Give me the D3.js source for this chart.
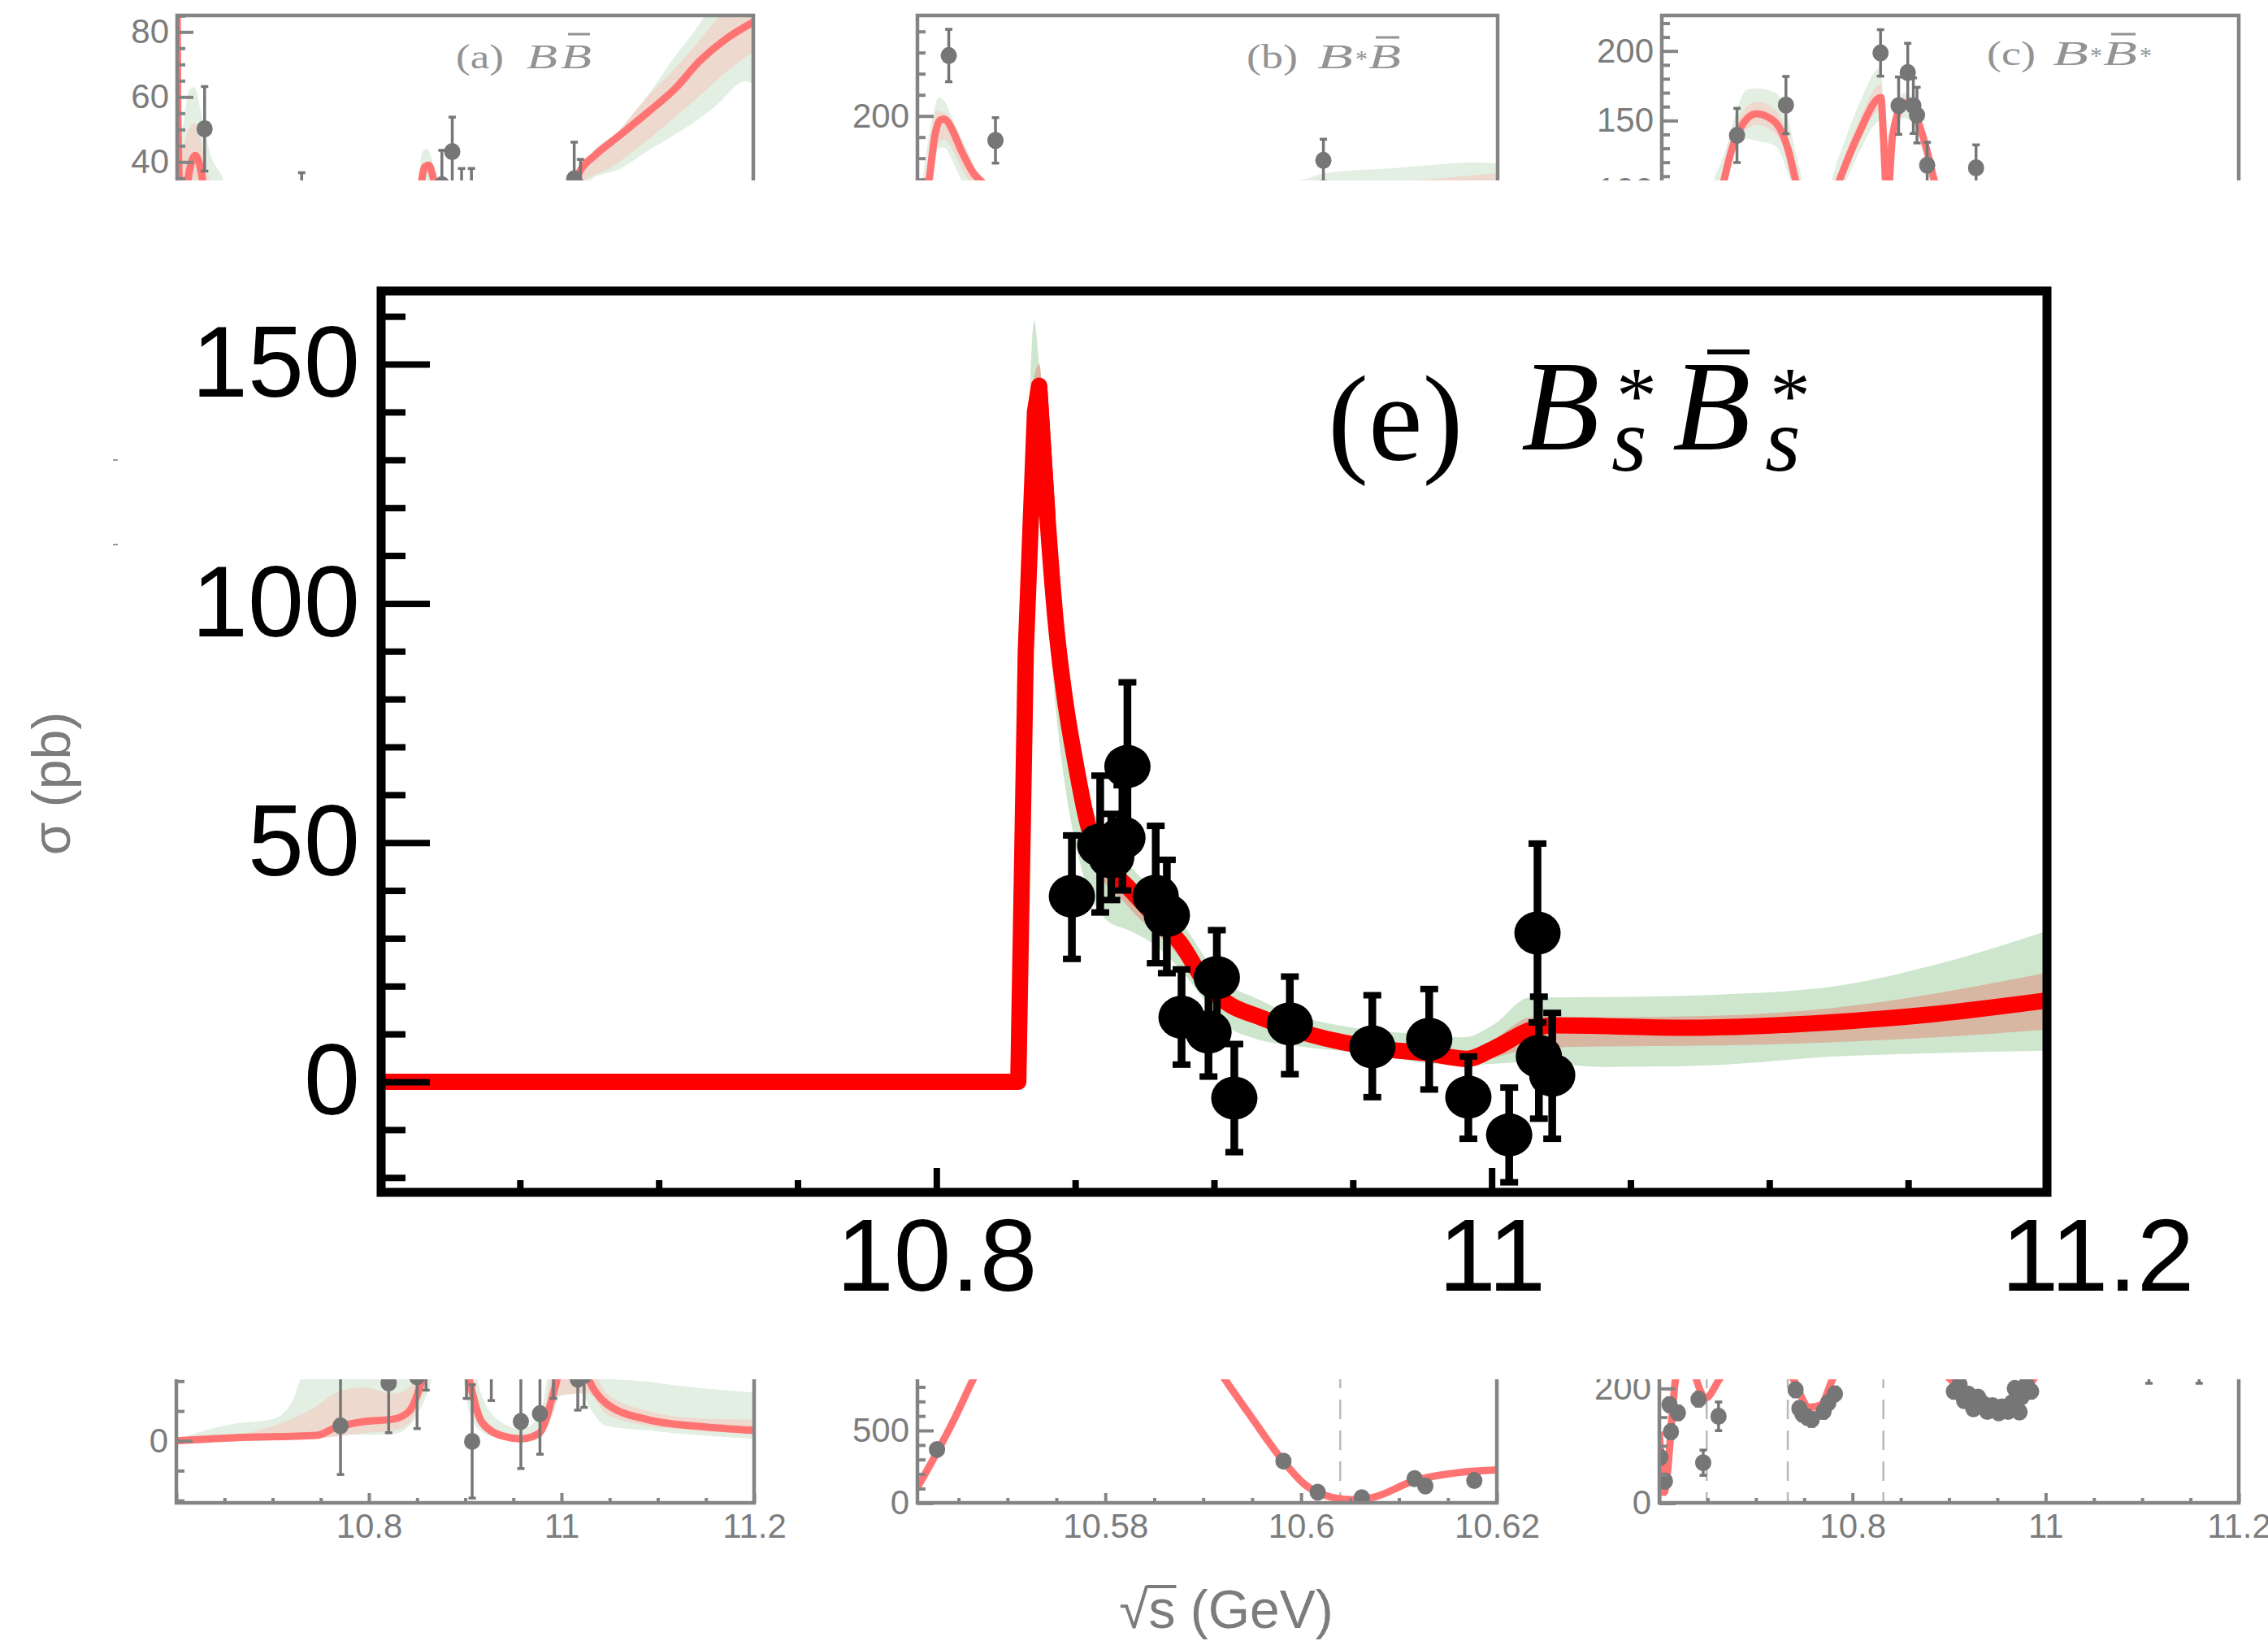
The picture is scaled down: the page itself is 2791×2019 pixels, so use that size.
<!DOCTYPE html>
<html>
<head>
<meta charset="utf-8">
<title>Bs* anti-Bs* cross section</title>
<script src="https://cdn.jsdelivr.net/npm/d3@7"></script>
<style>
  html, body { margin: 0; padding: 0; background: #ffffff; }
  svg { display: block; }
</style>
</head>
<body>
<svg id="fig" width="2791" height="2019"></svg>
<script>
// ================= Panel (e): B_s* B̄_s* =================
const energyE = [10.8488, 10.8590, 10.8630, 10.8670, 10.8688, 10.8790, 10.8830, 10.8883, 10.8980, 10.9010,
                 10.9073, 10.9273, 10.9570, 10.9775, 10.9916, 11.0063, 11.0165, 11.0170, 11.0218];
const sigmaE  = [38.8, 49.5, 47.0, 51.0, 65.9, 38.8, 34.8, 13.5, 10.4, 21.8,
                 -3.4, 12.1, 7.3, 8.9, -3.2, -11.1, 31.1, 5.3, 1.4];
const errUpE  = [12.7, 14.5, 9.0, 11.0, 17.6, 14.7, 11.6, 10.0, 9.3, 9.9,
                 11.3, 9.9, 10.8, 10.5, 8.5, 9.9, 18.7, 12.5, 13.0];
const errDnE  = [13.1, 14.1, 9.0, 11.0, 16.0, 14.0, 12.1, 9.9, 9.3, 10.0,
                 11.3, 10.5, 10.5, 10.5, 8.7, 9.9, 18.7, 13.0, 13.3];
// fitted line: threshold rise (straight segments) and the smooth tail
const fitRiseE = [[10.6, 0], [10.8295, 0], [10.8322, 90], [10.8355, 140], [10.8370, 145.5], [10.8400, 118]];
const fitTailE = [[10.8370, 145.5], [10.8400, 118], [10.8430, 96], [10.8463, 80], [10.8500, 67], [10.8547, 53.5],
  [10.8620, 45], [10.8693, 40.5], [10.8780, 35], [10.8877, 29.1], [10.8977, 20.1], [10.9060, 16.0], [10.9152, 13.8],
  [10.9345, 9.9], [10.9590, 7.0], [10.9775, 5.9], [10.9911, 4.8], [11.0009, 7.0], [11.0145, 11.0], [11.0222, 11.8],
  [11.0690, 11.3], [11.1237, 12.5], [11.1600, 14.2], [11.2000, 17.0]];
// uncertainty bands [sqrt(s), low, high]
const bandOuterE = [[10.8295, 0, 0], [10.8315, 30, 75], [10.8335, 95, 140], [10.8352, 125, 159], [10.8370, 128, 150],
  [10.8400, 100, 128], [10.8430, 78, 104], [10.8463, 62, 90], [10.8500, 50, 74], [10.8547, 40, 60], [10.8610, 34, 52],
  [10.8700, 31.5, 45], [10.8800, 28, 39], [10.8900, 22, 32], [10.8980, 16, 25], [10.9050, 11.6, 20.5],
  [10.9150, 9.0, 17.5], [10.9300, 7.5, 13.8], [10.9450, 6.5, 11.8], [10.9600, 5.5, 10.6], [10.9750, 4.0, 10.0],
  [10.9900, 3.5, 9.3], [11.0010, 3.8, 12.1], [11.0135, 4.2, 17.6], [11.0400, 3.1, 17.7], [11.0800, 3.5, 18.2],
  [11.1240, 5.3, 20.0], [11.1600, 6.0, 24.5], [11.2000, 6.5, 31.5]];
const bandInnerE = [[10.8295, 0, 0], [10.8320, 80, 100], [10.8355, 132, 148], [10.8370, 136, 150], [10.8400, 110, 124],
  [10.8463, 73, 85], [10.8547, 48, 57], [10.8693, 36.5, 43], [10.8877, 26, 31], [10.8977, 17.5, 22],
  [10.9152, 12, 15.5], [10.9345, 8.3, 11.2], [10.9590, 5.8, 8.5], [10.9775, 4.6, 7.3], [10.9911, 3.9, 6.5],
  [11.0009, 5.0, 9.0], [11.0145, 7.0, 13.5], [11.0400, 7.4, 13.5], [11.0800, 7.6, 13.8], [11.1240, 8.3, 15.5],
  [11.1600, 9.3, 18.5], [11.2000, 10.9, 22.8]];
const xMajorE = [10.8, 11.0, 11.2];
const xMinorE = [10.65, 10.7, 10.75, 10.85, 10.9, 10.95, 11.05, 11.1, 11.15];
const yMajorE = [0, 50, 100, 150];
const yMinorE = [-20, -10, 10, 20, 30, 40, 60, 70, 80, 90, 110, 120, 130, 140, 160];

// ================= Background panels =================
// (a) B B̄   points: [sqrt(s), sigma, error]
const ptsA = [[10.6286, 50.2, 13.0], [10.7297, 28, 8.7], [10.8757, 33, 10.6], [10.8865, 43.2, 10.6],
  [10.8962, 29, 9], [10.9065, 29, 9], [11.0135, 34.8, 11.3], [11.0200, 32, 8.8]];
const fitA = [[10.5995, 120], [10.6005, 60], [10.603, 30], [10.608, 25], [10.612, 36], [10.619, 42], [10.625, 37],
  [10.630, 28], [10.70, 20], [10.85, 28], [10.858, 38.5], [10.862, 39], [10.866, 36], [10.872, 28], [11.0, 28],
  [11.01, 31], [11.02, 37.5], [11.035, 42], [11.06, 48], [11.089, 55], [11.12, 63], [11.143, 70.7], [11.17, 77.5],
  [11.2, 83]];
const outerA = [[10.600, 20, 120], [10.605, 20, 50], [10.612, 25, 62], [10.618, 30, 63], [10.625, 28, 55],
  [10.635, 25, 42], [10.646, 20, 36], [10.66, 20, 25], [10.85, 28, 30], [10.855, 30, 43], [10.86, 32, 44],
  [10.866, 30, 40], [10.872, 25, 30], [11.0, 25, 30], [11.016, 30, 34.4], [11.03, 34.4, 42], [11.062, 38, 49.8],
  [11.089, 43.2, 60], [11.116, 48, 71.5], [11.143, 53.2, 82], [11.16, 57, 90], [11.192, 64.8, 100], [11.2, 64, 100]];
const innerA = [[10.600, 25, 100], [10.606, 25, 45], [10.612, 28, 50], [10.618, 33, 52], [10.625, 30, 46],
  [10.632, 25, 36], [10.66, 20, 25], [11.0, 25, 30], [11.019, 33, 36.5], [11.05, 38, 46], [11.089, 46.5, 59.8],
  [11.116, 53.2, 68], [11.143, 60, 77], [11.165, 66, 84.8], [11.2, 74, 92]];

// (b) B* B̄
const ptsB = [[10.6324, 257.2, 24.8], [10.6807, 176.9, 21.5], [11.0198, 158, 20]];
const fitB = [[10.600, 80], [10.606, 110], [10.612, 139], [10.618, 181.5], [10.6235, 196], [10.627, 197],
  [10.631, 195], [10.636, 187], [10.646, 166], [10.658, 145.7], [10.665, 139], [10.69, 120], [10.75, 100],
  [11.0, 110], [11.2, 125]];
const outerB = [[10.600, 60, 100], [10.610, 110, 170], [10.617, 150, 205], [10.622, 170, 217.5], [10.628, 170, 214],
  [10.635, 160, 200], [10.645, 140, 180], [10.655, 125, 160], [10.665, 110, 140], [10.70, 100, 120],
  [11.0, 120, 140], [11.0198, 125, 145.7], [11.094, 125, 150.8], [11.1765, 128, 155.9], [11.2, 128, 155]];
const innerB = [[10.600, 70, 90], [10.612, 130, 160], [10.620, 170, 205], [10.628, 178, 203], [10.636, 168, 192],
  [10.646, 150, 175], [10.66, 130, 150], [10.70, 105, 118], [11.0, 115, 132], [11.1, 118, 138], [11.2, 120, 146]];

// (c) B* B̄*
const ptsC = [[10.6782, 139.3, 19.5], [10.7291, 161.1, 20.6], [10.8275, 198.6, 16.7], [10.8463, 160.7, 20.6],
  [10.8558, 184.5, 21], [10.8616, 160.7, 20], [10.8654, 153.9, 20], [10.8760, 117.9, 16.5], [10.9268, 116, 16.5]];
const fitC = [[10.650, 50], [10.6647, 107], [10.6791, 141.2], [10.6984, 154.9], [10.7176, 149], [10.732, 127.6],
  [10.7392, 107], [10.76, 60], [10.7847, 107], [10.804, 139.3], [10.828, 166.5], [10.8304, 139.3], [10.8345, 90],
  [10.840, 139.3], [10.852, 162.6], [10.8616, 156.8], [10.876, 127.6], [10.8832, 107], [10.90, 70]];
const outerC = [[10.655, 70, 110], [10.6647, 95, 125], [10.6791, 131.5, 160], [10.6887, 137, 172.4],
  [10.6984, 135.4, 173], [10.7176, 132, 170.4], [10.732, 110, 149], [10.74, 90, 125], [10.76, 50, 80],
  [10.7847, 95, 125], [10.804, 125, 160], [10.828, 150, 188], [10.8304, 120, 160], [10.8345, 80, 100],
  [10.840, 125, 150], [10.852, 152, 170], [10.8616, 148, 165], [10.876, 118, 137], [10.8832, 95, 118], [10.90, 60, 80]];
const innerC = [[10.6647, 100, 115], [10.6791, 135, 150], [10.6984, 147, 163.6], [10.7176, 141, 158],
  [10.732, 120, 136], [10.7392, 100, 115], [10.76, 50, 70], [10.7847, 100, 114], [10.804, 132, 148],
  [10.828, 158, 176], [10.8304, 130, 148], [10.8345, 85, 95], [10.840, 132, 146], [10.852, 157, 167],
  [10.8616, 152, 161], [10.876, 123, 132], [10.8832, 102, 112]];

// (d) B_s B̄_s
const ptsD = [[10.7705, 5.0, 16.3], [10.8205, 19.4, 16.7], [10.8500, 21.5, 17.4], [10.8593, 35, 18],
  [10.9013, 32, 17.8], [10.9072, -0.2, 19], [10.9271, 30, 16.5], [10.9578, 6.5, 15.8], [10.9776, 9.1, 13.6],
  [10.9916, 30, 15.8], [11.0169, 20.7, 10.4], [11.0235, 22, 10.8]];
const fitD = [[10.6, 0], [10.659, 1.0], [10.7452, 1.8], [10.7667, 4.6], [10.7936, 6.4], [10.8259, 7.3], [10.842, 10.0],
  [10.8555, 20.7], [10.87, 40], [10.88, 45], [10.895, 35], [10.904, 20.7], [10.9175, 6.1], [10.939, 1.6],
  [10.958, 0.7], [10.9766, 2.5], [10.9955, 20.7], [11.01, 40], [11.028, 20.7], [11.0465, 12.5], [11.0895, 7.1],
  [11.1435, 4.8], [11.2, 3.5]];
const outerD = [[10.6, -0.5, 0.5], [10.659, -0.3, 5.7], [10.70, 0.2, 7.3], [10.72, 0.5, 13], [10.735, 0.8, 25],
  [10.7667, 2.0, 30], [10.80, 2.0, 30], [10.826, 2.3, 30], [10.842, 5, 30], [10.8555, 12, 40], [10.88, 30, 60],
  [10.895, 25, 50], [10.904, 10, 35], [10.9175, 3, 15], [10.939, 0.5, 6], [10.958, -0.5, 4], [10.9766, 0.8, 8],
  [10.99, 8, 30], [11.01, 25, 50], [11.028, 12, 30], [11.0465, 5, 21], [11.0895, 3.5, 19.8], [11.12, 2.5, 18.5],
  [11.2, 0.7, 16.2]];
const innerD = [[10.6, -0.3, 0.3], [10.659, 0.5, 1.8], [10.7452, 0.8, 11.6], [10.7667, 1.5, 16.2], [10.7936, 2.5, 18],
  [10.8259, 3.5, 15.8], [10.842, 6, 18], [10.8555, 15, 30], [10.88, 38, 52], [10.904, 15, 28], [10.9175, 4, 9],
  [10.939, 0.8, 3], [10.958, 0, 1.8], [10.9766, 1.5, 4], [10.9955, 15, 28], [11.028, 16, 26], [11.0465, 9, 16],
  [11.0895, 5, 10], [11.1435, 3.5, 7.5], [11.2, 2.1, 7.1]];

// (f) B B̄ near the Υ(4S)
const ptsF = [[10.5628, 369], [10.5982, 289], [10.6017, 75], [10.6062, 37], [10.6116, 168], [10.6127, 118], [10.6177, 155]];
const fitF = [[10.5608, 108], [10.5628, 350], [10.5644, 556], [10.5665, 854], [10.57, 1300], [10.58, 1700],
  [10.588, 1300], [10.5922, 854], [10.5951, 575], [10.5981, 295], [10.6004, 127], [10.6025, 52], [10.6051, 24],
  [10.6072, 37], [10.6116, 155], [10.6162, 211], [10.62, 229]];
const thresholdsF = [10.604];

// (g) total
const ptsG = [[10.601, 80, 12], [10.6058, 38.6, 12], [10.6105, 171.8, 12], [10.612, 124.7, 12], [10.6192, 157.6, 12],
  [10.6406, 181.2, 12], [10.6454, 70.6, 22], [10.6613, 151.5, 25], [10.7411, 197.6, 12], [10.7450, 165, 12],
  [10.7483, 155.3, 12], [10.7530, 150, 12], [10.7578, 145.9, 12], [10.7700, 160, 12], [10.7750, 175, 12],
  [10.7818, 190.6, 12], [10.9050, 195, 10], [10.9108, 207, 10], [10.9156, 178.8, 10], [10.9200, 190, 10],
  [10.9252, 164.7, 10], [10.9300, 185, 10], [10.9348, 174.1, 10], [10.9396, 160, 10], [10.9450, 170, 10],
  [10.9515, 157.6, 10], [10.9550, 168, 10], [10.9610, 160, 10], [10.9650, 175, 10], [10.9681, 200, 10],
  [10.9730, 159, 10], [10.9750, 185, 10], [10.9801, 207, 10], [10.9850, 195, 10], [11.107, 240, 31], [11.159, 240, 31]];
const fitG = [[10.6, 124.7], [10.6048, 18.8], [10.6167, 216], [10.627, 300], [10.6383, 216], [10.6479, 183.5],
  [10.6622, 216], [10.70, 320], [10.7387, 216], [10.7554, 167], [10.7674, 171.8], [10.7793, 216], [10.84, 330],
  [10.9013, 216], [10.9204, 188], [10.9396, 177.9], [10.9587, 174.1], [10.9753, 188], [10.9874, 216],
  [11.05, 350], [11.2, 300]];
const thresholdsG = [10.649, 10.733, 10.832];

// ================= drawing =================
const SANS = "'Liberation Sans', Arial, Helvetica, sans-serif";
const SERIF = "'Liberation Serif', 'Times New Roman', Times, serif";
const GREY = "#848484", GREY_TXT = "#7c7c7c", PT_GREY = "#767676";
const RED_SOFT = "#ff7373", GREEN_SOFT = "#e2efe2", PINK_SOFT = "#eed9ce";
const RED = "#ff0000", GREEN = "#cde6cd", BROWN = "#d7b6a2";

const svg = d3.select("#fig");
const defs = svg.append("defs");
svg.append("rect").attr("width", 2791).attr("height", 2019).attr("fill", "#fff");

function clipRect(id, x0, y0, x1, y1) {
  defs.append("clipPath").attr("id", id).append("rect")
    .attr("x", x0).attr("y", y0).attr("width", x1 - x0).attr("height", y1 - y0);
  return `url(#${id})`;
}
const lineOf = (x, y, c = d3.curveMonotoneX) => d3.line().x(d => x(d[0])).y(d => y(d[1])).curve(c);
const areaOf = (x, y) => d3.area().x(d => x(d[0])).y0(d => y(d[1])).y1(d => y(d[2])).curve(d3.curveMonotoneX);

// ---------- small grey panels ----------
function smallPanel(o) {
  const x = d3.scaleLinear().domain(o.xd).range([o.x0, o.x1]);
  const y = d3.scaleLinear().domain(o.yd).range(o.yr);
  const root = svg.append("g");
  const inner = root.append("g").attr("clip-path",
      clipRect(o.id, o.x0, Math.max(o.y0, o.vis[0]), o.x1, Math.min(o.y1, o.vis[1])));
  if (o.outer) inner.append("path").datum(o.outer).attr("fill", GREEN_SOFT).attr("d", areaOf(x, y));
  if (o.inner) inner.append("path").datum(o.inner).attr("fill", PINK_SOFT).attr("d", areaOf(x, y));
  (o.dashes || []).forEach(t => {
    inner.append("line").attr("x1", x(t)).attr("x2", x(t)).attr("y1", o.y0).attr("y2", o.y1)
      .attr("stroke", "#b9b9b9").attr("stroke-width", 2.5).attr("stroke-dasharray", "24 14");
  });
  inner.append("path").datum(o.fit).attr("fill", "none").attr("stroke", RED_SOFT)
    .attr("stroke-width", 9).attr("stroke-linejoin", "round").attr("d", lineOf(x, y));
  const pts = inner.append("g");
  o.pts.forEach(p => {
    if (p.length > 2) {
      const e = p[2];
      pts.append("line").attr("x1", x(p[0])).attr("x2", x(p[0])).attr("y1", y(p[1] + e)).attr("y2", y(p[1] - e))
        .attr("stroke", PT_GREY).attr("stroke-width", 3.5);
      [p[1] + e, p[1] - e].forEach(v => pts.append("line")
        .attr("x1", x(p[0]) - 4.5).attr("x2", x(p[0]) + 4.5).attr("y1", y(v)).attr("y2", y(v))
        .attr("stroke", PT_GREY).attr("stroke-width", 3.5));
    }
    pts.append("ellipse").attr("cx", x(p[0])).attr("cy", y(p[1])).attr("rx", 10).attr("ry", 10.5).attr("fill", PT_GREY);
  });
  // frame
  root.append("rect").attr("x", o.x0).attr("y", o.y0).attr("width", o.x1 - o.x0).attr("height", o.y1 - o.y0)
    .attr("fill", "none").attr("stroke", GREY).attr("stroke-width", 4.5);
  // axes (ticks point inwards)
  const styleAxis = g => {
    g.select(".domain").remove();
    g.selectAll(".tick line").attr("stroke", GREY).attr("stroke-width", 4);
    g.selectAll(".tick text").attr("fill", GREY_TXT).attr("font-family", SANS).attr("font-size", 42);
  };
  const yIn = v => y(v) >= o.y0 - 1 && y(v) <= o.y1 + 1;
  const xIn = v => x(v) >= o.x0 - 1 && x(v) <= o.x1 + 1;
  const ya = root.append("g").attr("transform", `translate(${o.x0},0)`);
  ya.append("g").call(d3.axisLeft(y).tickValues(o.yMinor.filter(yIn)).tickSize(-10).tickFormat("")).call(styleAxis);
  ya.append("g").call(d3.axisLeft(y).tickValues(o.yMajor.filter(yIn)).tickSize(-20).tickPadding(10)
    .tickFormat(d3.format("~g"))).call(styleAxis);
  if (o.xMajor) {
    const xa = root.append("g").attr("transform", `translate(0,${o.y1})`);
    xa.append("g").call(d3.axisBottom(x).tickValues(o.xMinor.filter(xIn)).tickSize(-6).tickFormat("")).call(styleAxis);
    xa.append("g").call(d3.axisBottom(x).tickValues(o.xMajor.filter(xIn)).tickSize(-12).tickPadding(13)
      .tickFormat(d3.format("~g"))).call(styleAxis);
    xa.selectAll(".tick text").filter(d => !o.xLabels.includes(d)).remove();
  }
  return { x, y, root };
}

const TOP = [0, 222], BOTTOM = [1697, 2019];
const xMinorWide = [10.65, 10.7, 10.75, 10.85, 10.9, 10.95, 11.05, 11.1, 11.15];

smallPanel({ id: "ca", x0: 218, x1: 927, y0: 19, y1: 1000, vis: TOP, xd: [10.6, 11.2], yd: [40, 80], yr: [199.3, 39.3],
  pts: ptsA, fit: fitA, outer: outerA, inner: innerA,
  yMinor: [35, 45, 50, 55, 65, 70, 75, 85], yMajor: [40, 60, 80] });
smallPanel({ id: "cb", x0: 1129, x1: 1843, y0: 19, y1: 1000, vis: TOP, xd: [10.6, 11.2], yd: [200, 280], yr: [142.7, 38.7],
  pts: ptsB, fit: fitB, outer: outerB, inner: innerB,
  yMinor: [140, 160, 180, 220, 240, 260, 280], yMajor: [100, 200, 300] });
smallPanel({ id: "cc", x0: 2045, x1: 2755, y0: 19, y1: 1000, vis: TOP, xd: [10.6, 11.2], yd: [150, 200], yr: [148.3, 62.7],
  pts: ptsC, fit: fitC, outer: outerC, inner: innerC,
  yMinor: [110, 120, 130, 140, 160, 170, 180, 190, 210, 220], yMajor: [100, 150, 200] });
smallPanel({ id: "cd", x0: 217, x1: 928, y0: 1000, y1: 1849, vis: BOTTOM, xd: [10.6, 11.2], yd: [0, 10], yr: [1772.7, 1736],
  pts: ptsD, fit: fitD, outer: outerD, inner: innerD,
  yMinor: [-20, -10, 10, 20], yMajor: [0],
  xMinor: xMinorWide, xMajor: [10.6, 10.8, 11.0, 11.2], xLabels: [10.8, 11.0, 11.2] });
smallPanel({ id: "cf", x0: 1129, x1: 1842, y0: 1000, y1: 1849, vis: BOTTOM, xd: [10.5608, 10.62], yd: [0, 500], yr: [1849.3, 1760],
  pts: ptsF, fit: fitF, dashes: thresholdsF,
  yMinor: [100, 200, 300, 400, 600, 700, 800], yMajor: [0, 500],
  xMinor: [10.565, 10.57, 10.575, 10.585, 10.59, 10.595, 10.605, 10.61, 10.615], xMajor: [10.58, 10.6, 10.62],
  xLabels: [10.58, 10.6, 10.62] });
smallPanel({ id: "cg", x0: 2042, x1: 2755, y0: 1000, y1: 1849, vis: BOTTOM, xd: [10.6, 11.2], yd: [0, 200], yr: [1849.5, 1708.3],
  pts: ptsG, fit: fitG, dashes: thresholdsG,
  yMinor: [50, 100, 150], yMajor: [0, 200],
  xMinor: xMinorWide, xMajor: [10.6, 10.8, 11.0, 11.2], xLabels: [10.8, 11.0, 11.2] });

// titles of the small panels (glyph widths pinned with textLength)
function smallTitle(parts) {
  const t = svg.append("text").attr("font-family", SERIF).attr("fill", "#939393").attr("font-size", 42);
  parts.forEach(p => {
    const s = t.append("tspan").attr("x", p.x).attr("y", p.y).text(p.s);
    if (p.it) s.attr("font-style", "italic");
    if (p.fs) s.attr("font-size", p.fs);
    if (p.len) s.attr("textLength", p.len).attr("lengthAdjust", "spacingAndGlyphs");
  });
}
function bar(x1, x2, yv, w, color) {
  svg.append("line").attr("x1", x1).attr("x2", x2).attr("y1", yv).attr("y2", yv).attr("stroke", color).attr("stroke-width", w);
}
smallTitle([{ s: "(a)", x: 561, y: 84, len: 59 }, { s: "B", x: 648, y: 84, it: 1, len: 38 }, { s: "B", x: 690, y: 84, it: 1, len: 38 }]);
bar(699, 726, 42, 3, "#939393");
smallTitle([{ s: "(b)", x: 1534, y: 84, len: 63 }, { s: "B", x: 1621, y: 84, it: 1, len: 44 }, { s: "*", x: 1668, y: 82, fs: 30 },
  { s: "B", x: 1684, y: 84, it: 1, len: 40 }]);
bar(1693, 1722, 46, 3, "#939393");
smallTitle([{ s: "(c)", x: 2445, y: 80, len: 60 }, { s: "B", x: 2526, y: 80, it: 1, len: 44 }, { s: "*", x: 2572, y: 78, fs: 30 },
  { s: "B", x: 2588, y: 80, it: 1, len: 42 }, { s: "*", x: 2633, y: 78, fs: 30 }]);
bar(2598, 2628, 42, 3, "#939393");

// white field carrying panel (e)
svg.append("rect").attr("x", 146).attr("y", 222).attr("width", 2791 - 146).attr("height", 1697 - 222).attr("fill", "#fff");

// shared axis titles of the grey figure
svg.append("text").attr("transform", "translate(86,964) rotate(-90)").attr("text-anchor", "middle")
  .attr("font-family", SANS).attr("font-size", 66).attr("fill", GREY_TXT).text("σ (pb)");
const xt = svg.append("text").attr("x", 1509).attr("y", 2003).attr("text-anchor", "middle")
  .attr("font-family", SANS).attr("font-size", 66).attr("fill", GREY_TXT).text("√s (GeV)");
{
  const n = xt.node();
  const sx = n.getStartPositionOfChar(1).x, ex = n.getEndPositionOfChar(1).x;
  bar(sx - 2, ex + 1, 1952, 4, GREY_TXT);
}
bar(139, 145, 566, 2, "#999");
bar(139, 145, 670, 2, "#999");

// ---------- panel (e) ----------
const X0 = 469, X1 = 2519, Y0 = 358, Y1 = 1467;
const xE = d3.scaleLinear().domain([10.6, 11.2]).range([X0, X1]);
const yE = d3.scaleLinear().domain([-23.1, 165.3]).range([Y1, Y0]);
const gE = svg.append("g");
const plot = gE.append("g").attr("clip-path", clipRect("ce", X0, Y0, X1, Y1));

plot.append("path").datum(bandOuterE).attr("fill", GREEN).attr("d", areaOf(xE, yE));
plot.append("path").datum(bandInnerE).attr("fill", BROWN).attr("d", areaOf(xE, yE));
plot.append("path").datum(fitTailE).attr("fill", "none").attr("stroke", RED).attr("stroke-width", 20)
  .attr("stroke-linejoin", "round").attr("d", lineOf(xE, yE));
plot.append("path").datum(fitRiseE).attr("fill", "none").attr("stroke", RED).attr("stroke-width", 20)
  .attr("stroke-linejoin", "round").attr("d", lineOf(xE, yE, d3.curveLinear));

const ptsE = energyE.map((e, i) => ({ e, s: sigmaE[i], up: errUpE[i], dn: errDnE[i] }));
const eb = plot.append("g").attr("stroke", "#000");
eb.selectAll("line.v").data(ptsE).join("line").attr("class", "v")
  .attr("x1", d => xE(d.e)).attr("x2", d => xE(d.e))
  .attr("y1", d => yE(d.s + d.up)).attr("y2", d => yE(d.s - d.dn)).attr("stroke-width", 9.5);
eb.selectAll("line.ct").data(ptsE).join("line").attr("class", "ct")
  .attr("x1", d => xE(d.e) - 11).attr("x2", d => xE(d.e) + 11)
  .attr("y1", d => yE(d.s + d.up)).attr("y2", d => yE(d.s + d.up)).attr("stroke-width", 8);
eb.selectAll("line.cb").data(ptsE).join("line").attr("class", "cb")
  .attr("x1", d => xE(d.e) - 11).attr("x2", d => xE(d.e) + 11)
  .attr("y1", d => yE(d.s - d.dn)).attr("y2", d => yE(d.s - d.dn)).attr("stroke-width", 8);
plot.append("g").selectAll("ellipse").data(ptsE).join("ellipse")
  .attr("cx", d => xE(d.e)).attr("cy", d => yE(d.s)).attr("rx", 28.5).attr("ry", 26.5).attr("fill", "#000");

// axes with inward ticks
const mainAxis = g => {
  g.select(".domain").remove();
  g.selectAll(".tick line").attr("stroke", "#000").attr("stroke-width", 8);
  g.selectAll(".tick text").attr("fill", "#000").attr("font-family", SANS);
};
const gx = gE.append("g").attr("transform", `translate(0,${Y1})`);
gx.append("g").call(d3.axisBottom(xE).tickValues(xMinorE).tickSize(-15).tickFormat("")).call(mainAxis);
gx.append("g").call(d3.axisBottom(xE).tickValues(xMajorE).tickSize(-30).tickPadding(31)
  .tickFormat(d3.format("~g"))).call(mainAxis);
gx.selectAll(".tick text").attr("font-size", 127);
gx.selectAll(".tick text").filter(d => d === 11.2).attr("dx", 62);
gx.selectAll(".tick").filter(d => d === 11.2).select("line").remove();

const gy = gE.append("g").attr("transform", `translate(${X0},0)`);
gy.append("g").call(d3.axisLeft(yE).tickValues(yMinorE).tickSize(-30).tickFormat("")).call(mainAxis);
gy.append("g").call(d3.axisLeft(yE).tickValues(yMajorE).tickSize(-60).tickPadding(26)
  .tickFormat(d3.format("~g"))).call(mainAxis);
gy.selectAll(".tick text").attr("font-size", 124);

gE.append("rect").attr("x", X0).attr("y", Y0).attr("width", X1 - X0).attr("height", Y1 - Y0)
  .attr("fill", "none").attr("stroke", "#000").attr("stroke-width", 11);

// panel label (e) B_s* B̄_s*
const ttl = gE.append("text").attr("font-family", SERIF).attr("fill", "#000");
ttl.append("tspan").attr("x", 1634).attr("y", 566).attr("font-size", 150).text("(e)");
ttl.append("tspan").attr("x", 1872).attr("y", 553).attr("font-size", 158).attr("font-style", "italic").text("B");
ttl.append("tspan").attr("x", 1989).attr("y", 520).attr("font-size", 100).text("*");
ttl.append("tspan").attr("x", 1983).attr("y", 579).attr("font-size", 112).attr("font-style", "italic").text("s");
ttl.append("tspan").attr("x", 2058).attr("y", 553).attr("font-size", 158).attr("font-style", "italic").text("B");
ttl.append("tspan").attr("x", 2178).attr("y", 520).attr("font-size", 100).text("*");
ttl.append("tspan").attr("x", 2172).attr("y", 579).attr("font-size", 112).attr("font-style", "italic").text("s");
bar(2101, 2153, 433, 6, "#000");
</script>
</body>
</html>
